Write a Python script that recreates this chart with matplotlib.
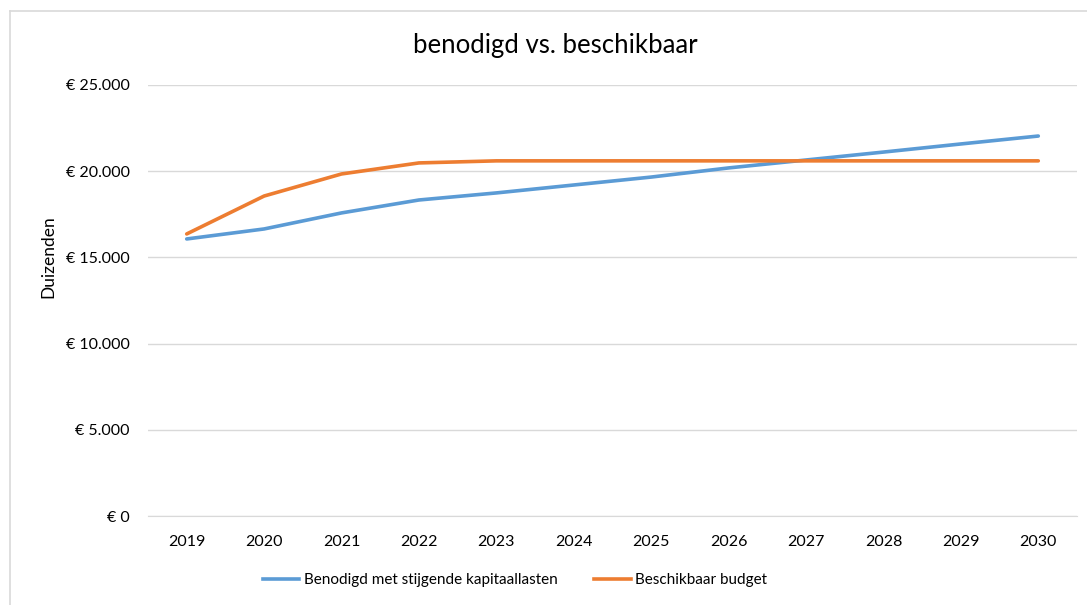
import matplotlib.pyplot as plt
from matplotlib.lines import Line2D
from matplotlib.ticker import FuncFormatter

years = ['2019', '2020', '2021', '2022', '2023', '2024', '2025',
         '2026', '2027', '2028', '2029', '2030']
benodigd = [16070, 16650, 17580, 18330, 18740, 19200, 19660,
            20190, 20650, 21110, 21580, 22040]
beschikbaar = [16360, 18560, 19840, 20480, 20600, 20600, 20600,
               20600, 20600, 20600, 20600, 20600]

plt.rcParams['font.family'] = ['Lato', 'DejaVu Sans']

fig = plt.figure(figsize=(10.87, 6.05), dpi=100)
W, H = 1087, 605
ax = fig.add_axes([148 / W, 1 - 516 / H, (1077 - 148) / W, (516 - 85) / H])

x = list(range(len(years)))
ax.plot(x, benodigd, color='#5B9BD5', lw=2.6, solid_capstyle='round',
        label='Benodigd met stijgende kapitaallasten')
ax.plot(x, beschikbaar, color='#ED7D31', lw=2.6, solid_capstyle='round',
        label='Beschikbaar budget')

ax.set_xlim(-0.5, len(years) - 0.5)
ax.set_ylim(0, 25000)
ax.set_yticks(range(0, 25001, 5000))
ax.yaxis.set_major_formatter(FuncFormatter(
    lambda v, p: '€ ' + f'{int(v):,}'.replace(',', '.')))
ax.set_xticks(x)
ax.set_xticklabels(years)
ax.grid(axis='y', color='#D9D9D9', lw=1)
ax.set_axisbelow(True)
for s in ['top', 'right', 'left']:
    ax.spines[s].set_visible(False)
ax.spines['bottom'].set_color('#D9D9D9')
ax.tick_params(axis='both', length=0, labelsize=11.5, colors='#000000')
ax.tick_params(axis='y', pad=13)
ax.tick_params(axis='x', pad=14)

fig.text(48 / W, 1 - 257 / H, 'Duizenden', rotation=90, ha='center',
         va='center', fontsize=12.5)

fig.text(555 / W, 1 - 45 / H, 'benodigd vs. beschikbaar', ha='center',
         va='center', fontsize=18.5)

handles = [Line2D([], [], color='#5B9BD5', lw=2.6),
           Line2D([], [], color='#ED7D31', lw=2.6)]
fig.legend(handles, ['Benodigd met stijgende kapitaallasten', 'Beschikbaar budget'],
           loc='center', bbox_to_anchor=(515 / W, 1 - 580 / H), ncol=2,
           frameon=False, fontsize=11, handlelength=2.4, handletextpad=0.3,
           columnspacing=2.4)

# chart border (top and left visible)
fig.add_artist(Line2D([10 / W, 10 / W], [0, 1 - 11 / H], color='#D9D9D9', lw=1.2,
                      transform=fig.transFigure))
fig.add_artist(Line2D([10 / W, 1], [1 - 11 / H, 1 - 11 / H], color='#D9D9D9', lw=1.2,
                      transform=fig.transFigure))

fig.savefig('out.png', dpi=100)
